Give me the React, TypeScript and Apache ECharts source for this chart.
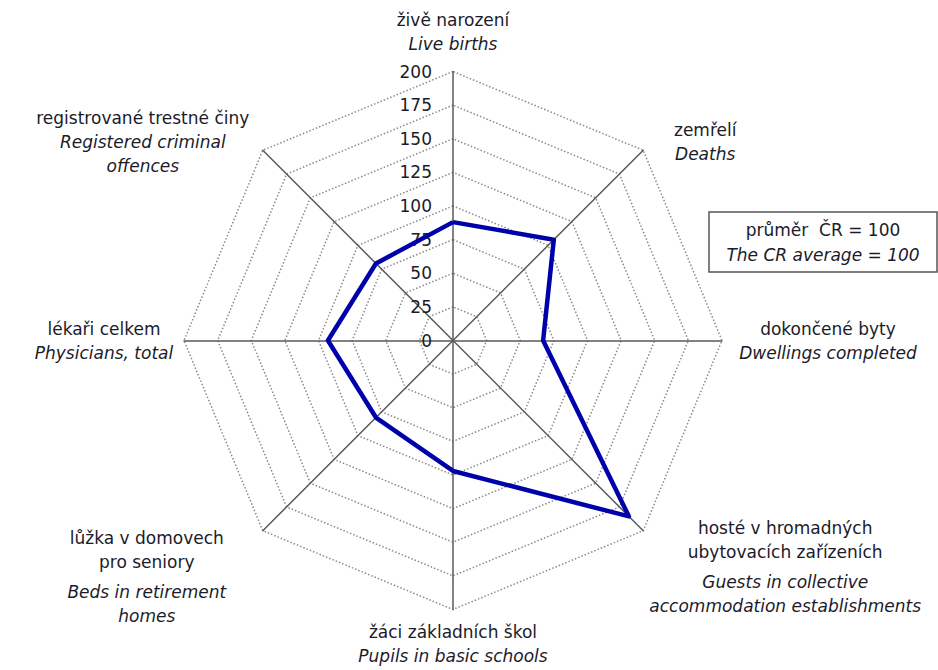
import React, { useEffect, useRef } from 'react';
import * as echarts from 'echarts';

// Indicators listed counter-clockwise from the top (ECharts radar order)
const namesCz = [
  'živě narození',
  'registrované trestné činy',
  'lékaři celkem',
  'lůžka v domovech\npro seniory',
  'žáci základních škol',
  'hosté v hromadných\nubytovacích zařízeních',
  'dokončené byty',
  'zemřelí',
];
const namesEn = [
  'Live births',
  'Registered criminal\noffences',
  'Physicians, total',
  'Beds in retirement\nhomes',
  'Pupils in basic schools',
  'Guests in collective\naccommodation establishments',
  'Dwellings completed',
  'Deaths',
];
const values = [88, 81, 93, 81, 97, 185, 67, 106];
const maxValue = 200;
const tickStep = 25;
const legendLines = ['průměr  ČR = 100', 'The CR average = 100'];

// label layout (style only): block width, top spacer, middle spacer, bottom spacer
const labelLayout = [
  { w: 200, top: 0, mid: 0, bottom: 14 },
  { w: 240, top: 0, mid: 0, bottom: 16 },
  { w: 160, top: 0, mid: 0, bottom: 0 },
  { w: 232, top: 92, mid: 6, bottom: 0 },
  { w: 240, top: 10, mid: 0, bottom: 0 },
  { w: 284, top: 72, mid: 6, bottom: 0 },
  { w: 212, top: 0, mid: 0, bottom: 0 },
  { w: 124, top: 0, mid: 0, bottom: 16 },
];

const FONT = '"DejaVu Sans", "Liberation Sans", Arial, sans-serif';
const FS = 17;
const TEXT = '#1b1b2a';

export default function App() {
  const ref = useRef<HTMLDivElement>(null);
  useEffect(() => {
    document.body.style.margin = '0';
    if (!ref.current) return;
    const chart = echarts.init(ref.current, undefined, { renderer: 'svg' });

    const rich: Record<string, any> = {};
    labelLayout.forEach((l, i) => {
      rich['c' + i] = { width: l.w, align: 'center', fontSize: FS, lineHeight: 24, color: TEXT, fontFamily: FONT };
      rich['e' + i] = { width: l.w, align: 'center', fontSize: FS, lineHeight: 24, color: TEXT, fontFamily: FONT, fontStyle: 'italic' };
      rich['t' + i] = { fontSize: 1, lineHeight: Math.max(l.top, 1) };
      rich['m' + i] = { fontSize: 1, lineHeight: Math.max(l.mid, 1) };
      rich['b' + i] = { fontSize: 1, lineHeight: Math.max(l.bottom, 1) };
    });

    const indicator = namesCz.map((n, i) => {
      const ind: any = { name: n, max: maxValue, min: 0 };
      if (i === 0) {
        ind.axisLabel = {
          show: true,
          margin: 21,
          fontSize: FS,
          fontFamily: FONT,
          color: TEXT,
        };
      }
      return ind;
    });

    chart.setOption({
      animation: false,
      backgroundColor: '#ffffff',
      radar: {
        center: [453, 340.5],
        radius: 269,
        startAngle: 90,
        shape: 'polygon',
        splitNumber: maxValue / tickStep,
        nameGap: 0,
        indicator,
        axisName: {
          fontFamily: FONT,
          fontSize: FS,
          color: TEXT,
          rich,
          formatter: (name: string) => {
            const i = namesCz.indexOf(name);
            const l = labelLayout[i];
            const parts: string[] = [];
            if (l.top) parts.push(`{t${i}| }`);
            namesCz[i].split('\n').forEach((s) => parts.push(`{c${i}|${s}}`));
            if (l.mid) parts.push(`{m${i}| }`);
            namesEn[i].split('\n').forEach((s) => parts.push(`{e${i}|${s}}`));
            if (l.bottom) parts.push(`{b${i}| }`);
            return parts.join('\n');
          },
        },
        axisLabel: { show: false },
        axisLine: { show: true, lineStyle: { color: '#5a5a5a', width: 1.5 } },
        axisTick: { show: false },
        splitLine: { show: true, lineStyle: { color: '#8a8a8a', width: 1.5, type: [1.5, 2] } },
        splitArea: { show: false },
      },
      series: [
        {
          type: 'radar',
          symbol: 'none',
          lineStyle: { color: '#0000aa', width: 4.5 },
          itemStyle: { color: '#0000aa' },
          data: [{ value: values, name: 'index' }],
        },
      ],
      graphic: [
        {
          type: 'rect',
          shape: { x: 709, y: 212, width: 228, height: 60 },
          style: { fill: '#ffffff', stroke: '#555555', lineWidth: 1.5 },
        },
        {
          type: 'text',
          x: 823,
          y: 230,
          style: { text: legendLines[0], fontSize: FS, fontFamily: FONT, fill: TEXT, align: 'center', verticalAlign: 'middle' },
        },
        {
          type: 'text',
          x: 823,
          y: 255,
          style: { text: legendLines[1], fontSize: FS, fontFamily: FONT, fontStyle: 'italic', fill: TEXT, align: 'center', verticalAlign: 'middle' },
        },
      ],
    });
    return () => chart.dispose();
  }, []);
  return <div ref={ref} style={{ width: 938, height: 670 }} />;
}
